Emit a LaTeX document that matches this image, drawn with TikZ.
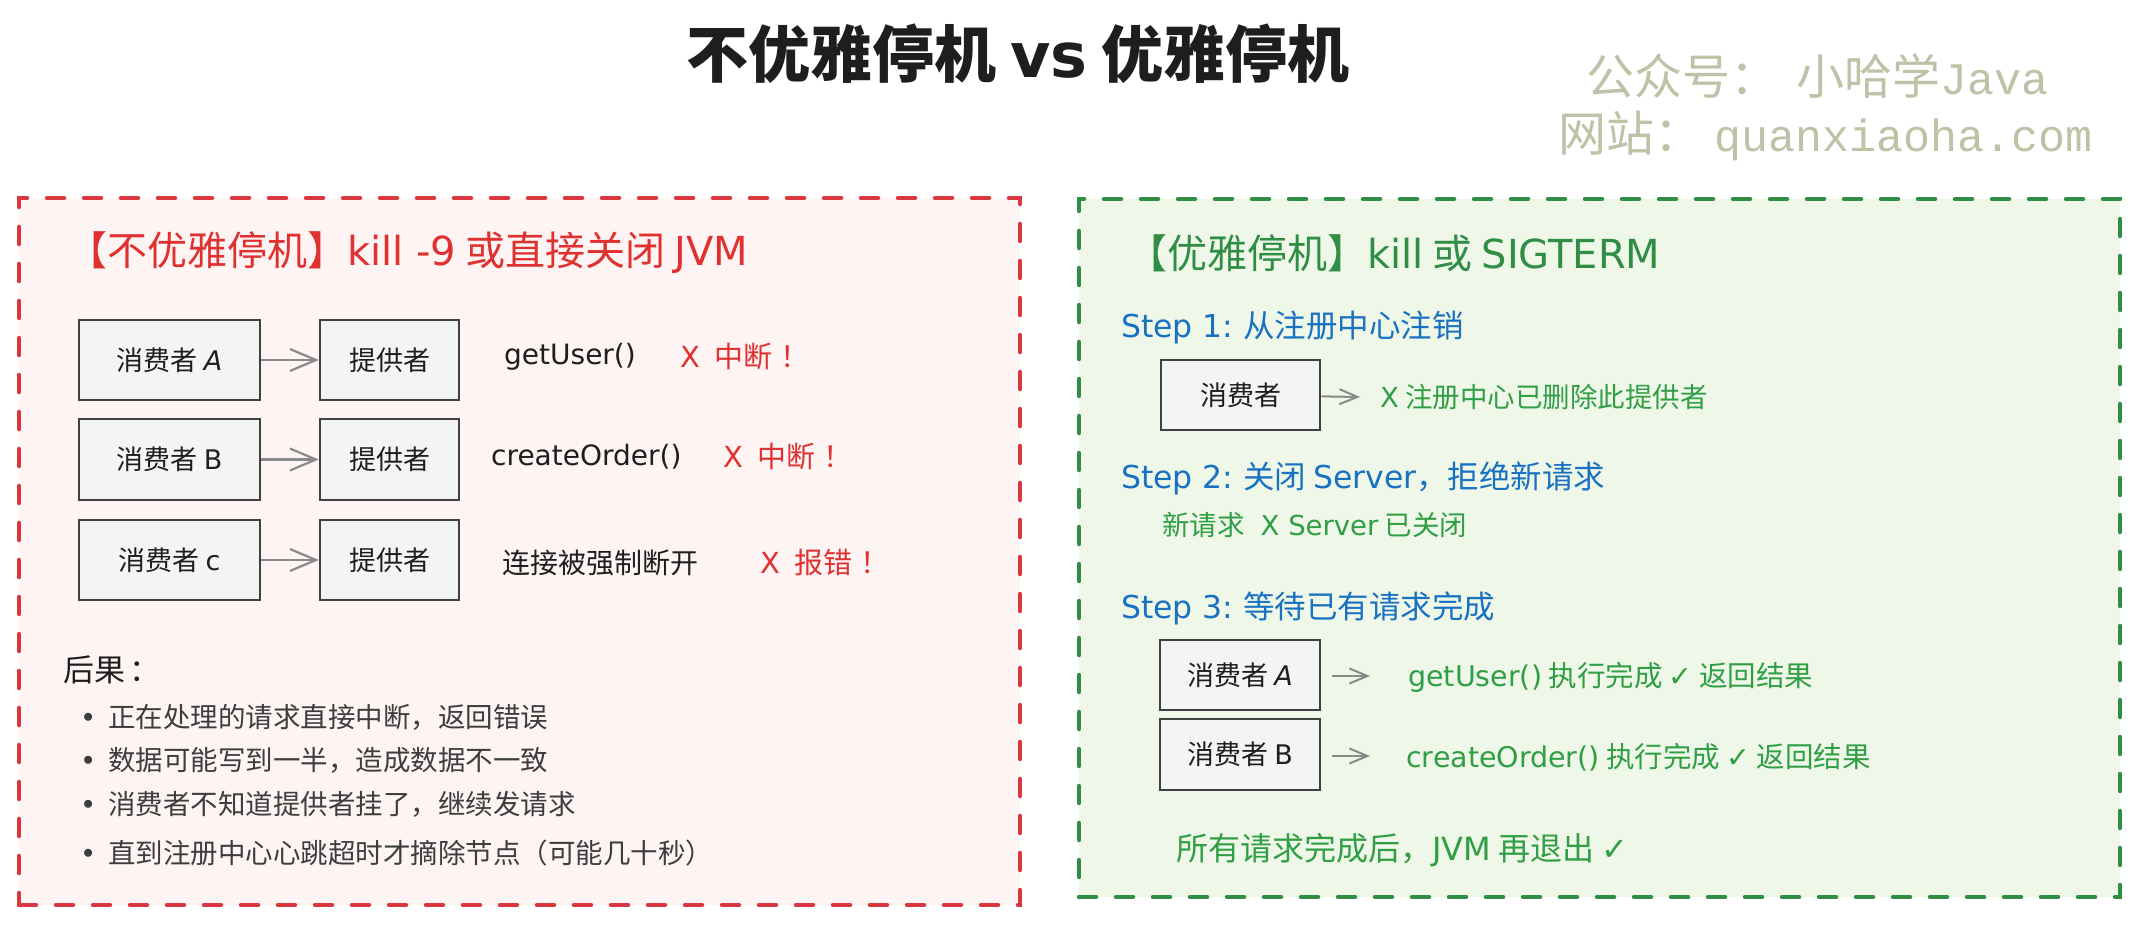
\documentclass[tikz,border=0pt]{standalone}
\usepackage{fontspec}
\setmainfont{Noto Sans CJK SC}
\newfontfamily\lat{DejaVu Sans}
\newfontfamily\wmmono{Liberation Mono}
\usetikzlibrary{arrows.meta}
\definecolor{ink}{HTML}{1E1E1E}
\definecolor{bodytxt}{HTML}{3D3D3D}
\definecolor{redline}{HTML}{D9363E}
\definecolor{redtxt}{HTML}{E03131}
\definecolor{redbg}{HTML}{FFF4F4}
\definecolor{greenline}{HTML}{2F8D46}
\definecolor{greentxt}{HTML}{2F9E44}
\definecolor{greenbg}{HTML}{EFF8E8}
\definecolor{bluetxt}{HTML}{1971C2}
\definecolor{boxfill}{HTML}{F4F4F4}
\definecolor{boxline}{HTML}{404040}
\definecolor{arrowgrey}{HTML}{8A8A8A}
\definecolor{wmcol}{HTML}{BFC2A6}
\newcommand\fsz[1]{\fontsize{#1}{#1}\selectfont}
\tikzset{
  panel/.style={line width=4.5pt, dash pattern=on 17pt off 20pt, line cap=round, inner sep=0pt},
  actor/.style={draw=boxline, fill=boxfill, line width=2.5pt, inner sep=0pt, font=\fsz{27}, text=ink},
  lbl/.style={anchor=west, inner sep=0pt},
  flowbig/.style={draw=arrowgrey, line width=2.2pt, -{Straight Barb[length=26pt,width=22pt,line width=2.2pt]}},
  flowsmall/.style={draw=arrowgrey, line width=2pt, -{Straight Barb[length=18pt,width=15pt,line width=2pt]}}
}
\begin{document}
\begin{tikzpicture}[x=1pt,y=-1pt]
\useasboundingbox (0,0) rectangle (2140,925);
\fill[white] (0,0) rectangle (2140,925);

% title and watermark
\node[font=\fsz{62}\bfseries, text=ink] (title) at (1018,54) {不优雅停机 {\lat vs} 优雅停机};
\node[lbl, font=\fsz{48}, text=wmcol] (wm1) at (1586,76) {公众号：\hspace{18pt}小哈学{\fsz{45}\wmmono Java}};
\node[lbl, font=\fsz{48}, text=wmcol] (wm2) at (1558,136) {网站：\hspace{12pt}{\fsz{45}\wmmono quanxiaoha.com}};

% panels
\node[panel, draw=redline, fill=redbg, minimum width=1001pt, minimum height=707pt] (leftpanel) at (519.5,551.5) {};
\node[panel, draw=greenline, fill=greenbg, minimum width=1041pt, minimum height=698pt] (rightpanel) at (1599.5,548) {};

% left panel
\node[lbl, font=\fsz{40}, text=redtxt] (lhead) at (67,253) {【不优雅停机】{\lat kill -9} 或直接关闭 {\lat JVM}};

\node[actor, minimum width=181pt, minimum height=80pt] (ca) at (169.5,360) {消费者 {\lat\itshape A}};
\node[actor, minimum width=139pt, minimum height=80pt] (pa) at (389.5,360) {提供者};
\node[actor, minimum width=181pt, minimum height=81pt] (cb) at (169.5,459.5) {消费者 {\lat B}};
\node[actor, minimum width=139pt, minimum height=81pt] (pb) at (389.5,459.5) {提供者};
\node[actor, minimum width=181pt, minimum height=80pt] (cc) at (169.5,560) {消费者 {\lat c}};
\node[actor, minimum width=139pt, minimum height=80pt] (pc) at (389.5,560) {提供者};
\draw[flowbig] (ca) -- (pa);
\draw[flowbig] (cb) -- (pb);
\draw[flowbig] (cc) -- (pc);

\node[lbl, font=\fsz{28}, text=ink] (m1) at (504,357) {\lat getUser()};
\node[lbl, font=\fsz{29}, text=redtxt] (e1) at (680,357) {{\lat X}\hspace{14pt}中断\hspace{8pt}！};
\node[lbl, font=\fsz{28}, text=ink] (m2) at (491,457) {\lat createOrder()};
\node[lbl, font=\fsz{29}, text=redtxt] (e2) at (723,457) {{\lat X}\hspace{14pt}中断\hspace{8pt}！};
\node[lbl, font=\fsz{28}, text=ink] (m3) at (502,563) {连接被强制断开};
\node[lbl, font=\fsz{29}, text=redtxt] (e3) at (760,563) {{\lat X}\hspace{14pt}报错\hspace{8pt}！};

\node[lbl, font=\fsz{31}, text=ink] (conseq) at (63,670) {后果\hspace{4pt}：};
\node[lbl, font=\fsz{27.5}, text=bodytxt] (b1) at (80,717) {{\lat •}\hspace{12pt}正在处理的请求直接中断，返回错误};
\node[lbl, font=\fsz{27.5}, text=bodytxt] (b2) at (80,760) {{\lat •}\hspace{12pt}数据可能写到一半，造成数据不一致};
\node[lbl, font=\fsz{27.5}, text=bodytxt] (b3) at (80,804) {{\lat •}\hspace{12pt}消费者不知道提供者挂了，继续发请求};
\node[lbl, font=\fsz{27.5}, text=bodytxt] (b4) at (80,853) {{\lat •}\hspace{12pt}直到注册中心心跳超时才摘除节点（可能几十秒）};

% right panel
\node[lbl, font=\fsz{40}, text=greenline] (rhead) at (1127,253) {【优雅停机】{\lat kill} 或 {\lat SIGTERM}};

\node[lbl, font=\fsz{31.5}, text=bluetxt] (s1) at (1121,327) {{\lat Step 1:} 从注册中心注销};
\node[actor, minimum width=159pt, minimum height=70pt] (c1) at (1240.5,395) {消费者};
\coordinate (c1end) at (1360,397);
\draw[flowsmall] (c1) -- (c1end);
\node[lbl, font=\fsz{27.5}, text=greentxt] (r1) at (1380,397) {{\lat X}\hspace{6pt}注册中心已删除此提供者};

\node[lbl, font=\fsz{31.5}, text=bluetxt] (s2) at (1121,478) {{\lat Step 2:} 关闭 {\lat Server}，拒绝新请求};
\node[lbl, font=\fsz{27.5}, text=greentxt] (r2) at (1162,525) {新请求\hspace{16pt}{\lat X Server} 已关闭};

\node[lbl, font=\fsz{31.5}, text=bluetxt] (s3) at (1121,608) {{\lat Step 3:} 等待已有请求完成};
\node[actor, minimum width=160pt, minimum height=70pt] (c3a) at (1240,675) {消费者 {\lat\itshape A}};
\node[actor, minimum width=160pt, minimum height=71pt] (c3b) at (1240,754.5) {消费者 {\lat B}};
\coordinate (c3aend) at (1370,676);
\coordinate (c3bend) at (1370,756);
\draw[flowsmall, shorten <=11pt] (c3a.east |- c3aend) -- (c3aend);
\draw[flowsmall, shorten <=11pt] (c3b.east |- c3bend) -- (c3bend);
\node[lbl, font=\fsz{28.5}, text=greentxt] (r3a) at (1408,677) {{\lat getUser()} 执行完成 {\lat ✓} 返回结果};
\node[lbl, font=\fsz{28.5}, text=greentxt] (r3b) at (1406,757) {{\lat createOrder()} 执行完成 {\lat ✓} 返回结果};

\node[lbl, font=\fsz{32}, text=greentxt] (final) at (1176,850) {所有请求完成后，{\lat JVM} 再退出 {\lat ✓}};
\end{tikzpicture}
\end{document}
